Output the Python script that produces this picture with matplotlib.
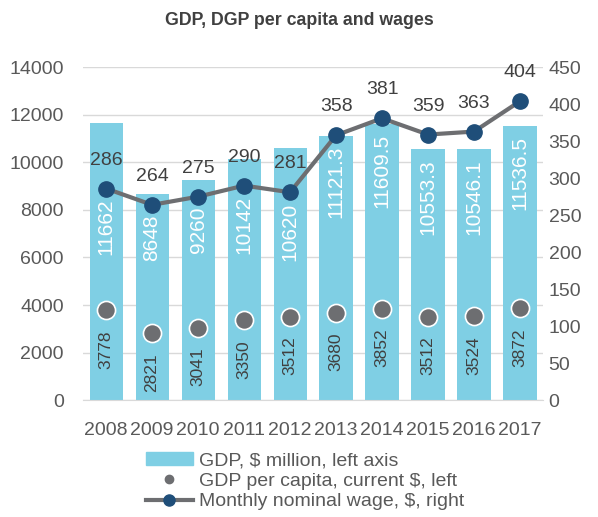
import matplotlib.pyplot as plt
from matplotlib.lines import Line2D
from matplotlib.patches import Patch
import numpy as np

# data
years = ['2008', '2009', '2010', '2011', '2012', '2013', '2014', '2015', '2016', '2017']
gdp = [11662, 8648, 9260, 10142, 10620, 11121.3, 11609.5, 10553.3, 10546.1, 11536.5]
gdp_lbl = ['11662', '8648', '9260', '10142', '10620', '11121.3', '11609.5', '10553.3', '10546.1', '11536.5']
per_capita = [3778, 2821, 3041, 3350, 3512, 3680, 3852, 3512, 3524, 3872]
wage = [286, 264, 275, 290, 281, 358, 381, 359, 363, 404]

plt.rcParams['font.family'] = ['Liberation Sans', 'DejaVu Sans']
txt = '#595959'
bar_c = '#7fcfe4'
dot_c = '#6d6e71'
navy = '#1f4e79'

fig = plt.figure(figsize=(5.98, 5.17), dpi=100)
ax = fig.add_axes([0.139, 0.226, 0.769, 0.644])
ax2 = ax.twinx()
x = np.arange(len(years))

ax.bar(x, gdp, width=0.72, color=bar_c, zorder=2)
ax.scatter(x, per_capita, s=170, color=dot_c, edgecolor='white', linewidth=1.2, zorder=3)
ax2.plot(x, wage, color=dot_c, lw=3, marker='o', ms=11, mfc=navy, mec=navy, zorder=4)

ax.set_ylim(0, 14000)
ax2.set_ylim(0, 450)
ax.set_xlim(-0.5, len(years) - 0.5)
ax.set_yticks(range(0, 14001, 2000))
ax2.set_yticks(range(0, 451, 50))
ax.set_xticks(x)
ax.set_xticklabels(years)
ax.grid(axis='y', color='#d9d9d9', lw=1, zorder=0)
ax.set_axisbelow(True)
for a in (ax, ax2):
    for s in a.spines.values():
        s.set_visible(False)
ax.spines['bottom'].set_visible(True)
ax.spines['bottom'].set_color('#d9d9d9')
ax.tick_params(axis='y', length=0, pad=14, labelsize=14, labelcolor=txt)
ax.tick_params(axis='x', length=0, pad=16, labelsize=14, labelcolor=txt)
ax2.tick_params(axis='y', length=0, pad=4, labelsize=14, labelcolor=txt)

# bar labels inside (white), kept below the wage line
scale = 14000 / 450
for i in range(len(years)):
    top = min(gdp[i], wage[i] * scale)
    ax.annotate(gdp_lbl[i], (x[i], top), xytext=(0, -10), textcoords='offset pixels',
                rotation=90, ha='center', va='top', color='white', fontsize=15, zorder=5)
    ax.annotate(str(per_capita[i]), (x[i], per_capita[i]), xytext=(0, -20),
                textcoords='offset pixels', rotation=90, ha='center', va='top',
                color='#404040', fontsize=12.5, zorder=5)
    ax2.annotate(str(wage[i]), (x[i], wage[i]), xytext=(0, 20), textcoords='offset pixels',
                 ha='center', va='bottom', color='#404040', fontsize=14, zorder=5)

fig.text(0.5, 0.96, 'GDP, DGP per capita and wages', ha='center', va='center',
         fontsize=12.8, fontweight='bold', color='#404040')

handles = [Patch(color=bar_c),
           Line2D([], [], ls='none', marker='o', ms=6, color=dot_c),
           Line2D([], [], color=dot_c, lw=3, marker='o', ms=8, mfc=navy, mec=navy)]
labels = ['GDP, $ million, left axis', 'GDP per capita, current $, left',
          'Monthly nominal wage, $, right']
leg = fig.legend(handles, labels, loc='upper center',
                 bbox_to_anchor=(0.51, 0.145), frameon=False, fontsize=14,
                 handlelength=2.4, handleheight=0.7, labelspacing=0.15,
                 handletextpad=0.3, borderpad=0)
for t in leg.get_texts():
    t.set_color(txt)

fig.savefig('out.png', dpi=100)
